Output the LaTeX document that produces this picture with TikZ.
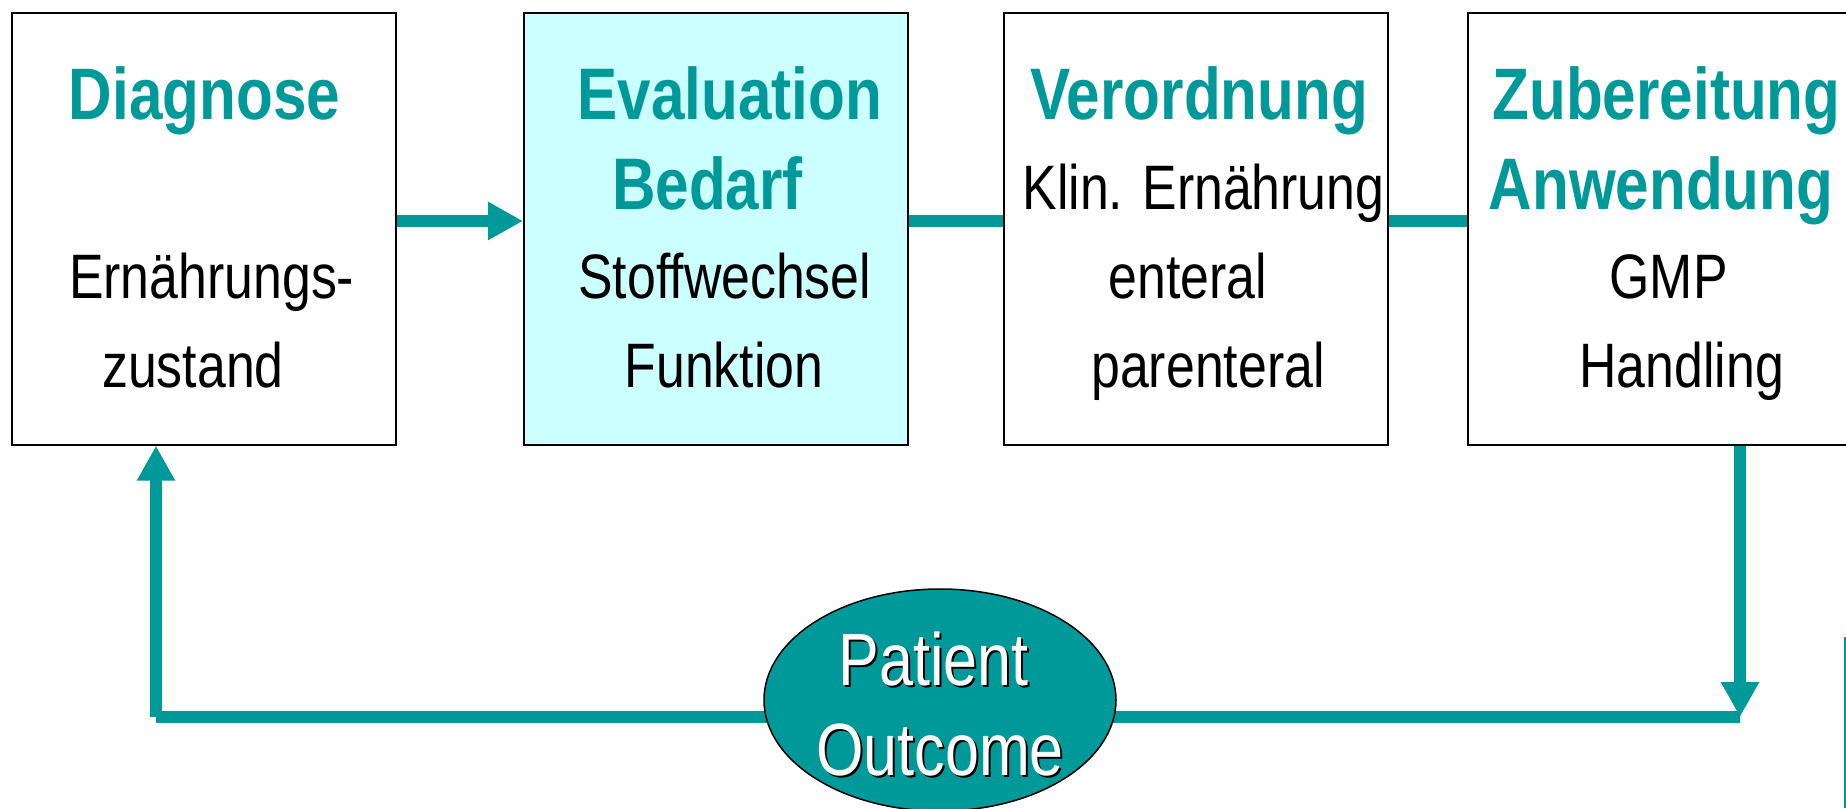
\documentclass[tikz,border=0pt]{standalone}
\usepackage{fontspec}
\setmainfont{Liberation Sans}[FakeStretch=0.825]
\usetikzlibrary{arrows.meta,shapes.geometric}
\definecolor{tealc}{RGB}{0,153,153}
\definecolor{lightc}{RGB}{204,255,255}
\tikzset{
  box/.style={draw=black, line width=2pt, minimum width=384pt, minimum height=432pt, inner sep=0pt},
  head/.style={anchor=base, inner sep=0pt, text=tealc, font=\fontsize{73}{80}\selectfont\bfseries},
  body/.style={anchor=base, inner sep=0pt, text=black, font=\fontsize{62.8}{70}\selectfont},
  conn/.style={draw=tealc, line width=12pt},
  ptext/.style={anchor=base, inner sep=0pt, font=\fontsize{74}{80}\selectfont},
  >={Triangle[length=35pt,width=36pt]}
}
\begin{document}
\begin{tikzpicture}[x=1pt,y=-1pt]
\useasboundingbox (0,0) rectangle (1846,808);
% boxes
\node[box] (b1) at (203.7,228.7) {};
\node[box, fill=lightc] (b2) at (716,228.7) {};
\node[box] (b3) at (1196.4,228.7) {};
\node[box] (b4) at (1660,228.7) {};
% texts
\node[head] (t1a) at (204.5,119) {Diagnose};
\node[body] (t1b) at (211.7,298.3) {Ernährungs-};
\node[body] (t1c) at (193,387.7) {zustand};
\node[head] (t2a) at (730,119) {Evaluation};
\node[head] (t2b) at (707.5,209) {Bedarf};
\node[body] (t2c) at (724.8,298.3) {Stoffwechsel};
\node[body] (t2d) at (724,387.7) {Funktion};
\node[head] (t3a) at (1199,119) {Verordnung};
\node[body] (t3b) at (1203.5,209) {Klin. Ernährung};
\node[body] (t3c) at (1188,298.3) {enteral};
\node[body] (t3d) at (1208,387.7) {parenteral};
\node[head] (t4a) at (1666.5,119) {Zubereitung};
\node[head] (t4b) at (1661,209) {Anwendung};
\node[body] (t4c) at (1668.6,298.3) {GMP};
\node[body] (t4d) at (1681.7,387.7) {Handling};
% top connectors
\draw[conn,->] ([yshift=7.7pt]b1.east) -- ([yshift=7.7pt]b2.west);
\draw[conn] ([yshift=7.7pt]b2.east) -- ([yshift=7.7pt]b3.west);
\draw[conn] ([yshift=7.7pt]b3.east) -- ([yshift=7.7pt]b4.west);
% feedback loop
\coordinate (cr) at (1740,717);
\coordinate (cl) at (156,717);
\draw[conn,->] (cr |- b4.south) -- (cr);
\draw[conn] (cr) -- (cl);
\draw[conn,->] (cl) -- (cl |- b1.south);
% outcome ellipse
\node[ellipse, draw=black, line width=1.5pt, fill=tealc, minimum width=352pt, minimum height=222pt, inner sep=0pt] (out) at (940,700) {};
\node[ptext, text=black] (p1s) at (935.5,687.5) {Patient};
\node[ptext, text=white] (p1) at (933.5,685.5) {Patient};
\node[ptext, text=black] (p2s) at (942,777) {Outcome};
\node[ptext, text=white] (p2) at (940,775) {Outcome};
% partial shape at right edge
\draw[tealc, line width=2pt] (1845,637) -- (1845,808);
\end{tikzpicture}
\end{document}
